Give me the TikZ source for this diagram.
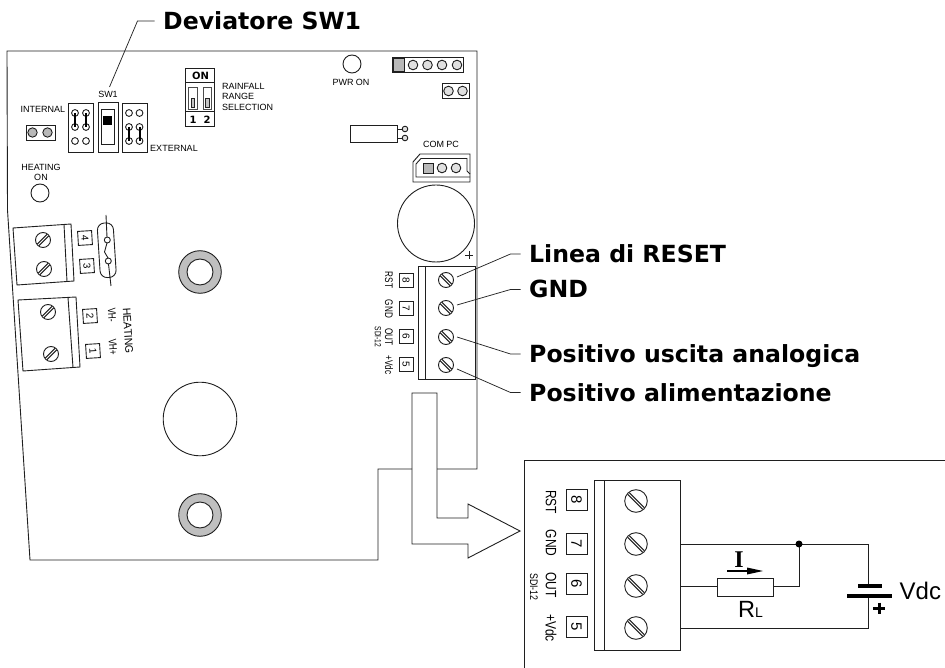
\documentclass[tikz,border=0pt]{standalone}
\usepackage{fontspec}
\usepackage{graphicx}
\setmainfont{Liberation Sans}
\newfontfamily\boldlabel[Scale=1]{DejaVu Sans}
\newfontfamily\serifbold{Liberation Serif}
\newcommand{\px}[1]{\fontsize{#1}{#1}\selectfont}
\newcommand{\nar}[1]{\scalebox{.74}[1]{#1}}
\newcommand{\screwmark}[5]{% name,x,y,r,angle
  \coordinate (#1) at (#2,#3);
  \draw[line] (#1) circle (#4pt);
  \draw[line,shift={(#1)},rotate=#5] (-#4pt+.6pt,1.15pt)--(#4pt-.6pt,1.15pt) (-#4pt+.6pt,-1.15pt)--(#4pt-.6pt,-1.15pt);
}
\newcommand{\grommet}[3]{% name,x,y
  \coordinate (#1) at (#2,#3);
  \draw[line,fill=holegray] (#1) circle (21.3pt);
  \draw[line,fill=white] (#1) circle (13pt);
}
\colorlet{holegray}{black!25}
\colorlet{pingray}{black!28}
\tikzset{
  x=1pt,y=-1pt,
  line/.style={draw=black!88,line width=.9pt},
  thin line/.style={draw=black!85,line width=.75pt},
  pin/.style={line,fill=pingray},
  callout/.style={anchor=west,inner ysep=0pt,inner xsep=8.5pt,text height=17pt,text depth=0pt,font=\boldlabel\bfseries\px{23.6}},
  cad/.style={inner sep=0pt,font=\px{9}},
  cadrot/.style={inner sep=0pt,font=\px{11}},
  cadsmall/.style={inner sep=0pt,font=\px{9}},
  cadbig/.style={inner sep=0pt,font=\px{15}},
  tag/.style={line,minimum size=14pt,inner sep=0pt,font=\px{10}},
  tagbig/.style={line,minimum size=21pt,inner sep=0pt,font=\px{15}},
}
\begin{document}
\begin{tikzpicture}
\useasboundingbox (0,0) rectangle (945,668);
% ---- board outline
\draw[line] (412,469) -- (378,469) -- (378,560) -- (30,560) -- (7.5,210) -- (7,51) -- (477,51) -- (477,469) -- (437,469);
% ---- callouts
\node[callout] (tDev) at (154.5,21) {Deviatore SW1};
\node[callout] (tLin) at (520.5,254) {Linea di RESET};
\node[callout] (tGnd) at (520.5,289.5) {GND};
\node[callout] (tOut) at (520.5,354) {Positivo uscita analogica};
\node[callout] (tAli) at (520.5,392.5) {Positivo alimentazione};
\coordinate (cSw) at (109.5,87);
\coordinate (c8) at (457,277);
\coordinate (c7) at (457,305);
\coordinate (c6) at (457,337);
\coordinate (c5) at (457,369);
\draw[thin line] (tDev.west) -- ++(-17,0) -- (cSw);
\draw[thin line] (tLin.west) -- ++(-10,0) -- (c8);
\draw[thin line] (tGnd.west) -- ++(-10,0) -- (c7);
\draw[thin line] (tOut.west) -- ++(-10,0) -- (c6);
\draw[thin line] (tAli.west) -- ++(-10,0) -- (c5);
% ---- top left jumpers
\node[cad] (lInt) at (43,109) {INTERNAL};
\node[cad] (lSw) at (108,94) {SW1};
\node[cad] (lExt) at (174,148) {EXTERNAL};
\node[cad] (lHea) at (41,167) {HEATING};
\node[cad] (lOn) at (41,177) {ON};
\draw[line] (40,193) circle (9pt);
\draw[line] (26,125) rectangle (55,140);
\draw[pin] (32.5,132.5) circle (4.7pt) (47.5,132.5) circle (4.7pt);
\draw[line] (68,103) rectangle (93,152);
\draw[line] (98,102) rectangle (118,152);
\draw[line] (122,103) rectangle (147,152);
\draw[line] (101,109) rectangle (114,144);
\fill[black] (103,116) rectangle (112,125);
\foreach \a in {75,86}{
  \draw[line,fill=white] (\a,113) circle (3.4pt) (\a,127) circle (3.4pt) (\a,141) circle (3.4pt);
  \draw[line width=2pt,black] (\a,113) -- (\a,127);
}
\foreach \a in {129,139.5}{
  \draw[line,fill=white] (\a,113) circle (3.4pt) (\a,127) circle (3.4pt) (\a,141) circle (3.4pt);
  \draw[line width=2pt,black] (\a,127) -- (\a,141);
}
% ---- DIP switch
\draw[line] (185,68) rectangle (214,126);
\draw[line] (185,82) -- (214,82) (185,111) -- (214,111);
\draw[thin line,draw=black!70] (188.5,87) rectangle (197,109) (203,87) rectangle (211.5,109);
\draw[thin line,fill=black!22] (191,98) rectangle (194.5,107);
\draw[thin line,fill=black!22] (205.5,98) rectangle (209,107);
\node[inner sep=0pt,font=\boldlabel\bfseries\px{10}] (lDon) at (200.5,76) {ON};
\node[inner sep=0pt,font=\boldlabel\bfseries\px{10}] (lD1) at (193,120) {1};
\node[inner sep=0pt,font=\boldlabel\bfseries\px{10}] (lD2) at (207,120) {2};
\node[cad,anchor=west] (lRa) at (222,86) {RAINFALL};
\node[cad,anchor=west] (lRb) at (222,96.5) {RANGE};
\node[cad,anchor=west] (lRc) at (222,107) {SELECTION};
% ---- top right
\draw[line] (352,64) circle (9pt);
\node[cad] (lPwr) at (351,82) {PWR ON};
\draw[line] (392,57) rectangle (463,72);
\draw[pin] (393.5,58.5) rectangle (404,71);
\foreach \a in {413,427.5,442,457}{\draw[pin,fill=black!12] (\a,65) circle (4.8pt);}
\draw[line] (442,83) rectangle (469,98);
\draw[pin,fill=black!12] (448.5,91) circle (4.8pt) (462.5,91) circle (4.8pt);
\draw[line] (350,125) rectangle (397,142);
\draw[line] (397,129) -- (402,129) (397,138) -- (402,138);
\draw[line,fill=black!12] (405,129) circle (2.8pt) (405,138) circle (2.8pt);
\node[cad] (lCom) at (441,144) {COM PC};
\draw[line] (413,162) -- (420,154) -- (470,154) -- (470,182) -- (413,182) -- cycle;
\draw[line] (470,177) -- (416,177) -- (416,164) -- (421,158.5) -- (467,158.5) -- (467,171) -- (470,174);
\draw[pin] (423,163) rectangle (433,173);
\draw[pin,fill=black!12] (442,168) circle (4.8pt) (456,168) circle (4.8pt);
\draw[line] (436,223.5) circle (38.5pt);
\draw[line] (465,255) -- (473,255) (469,251) -- (469,259);
% ---- upper terminal block
\draw[line] (418,266) rectangle (475,379);
\draw[line] (425,266) -- (425,379);
\screwmark{s8}{446}{280}{7.5}{-45}
\screwmark{s7}{446}{308}{7.5}{-45}
\screwmark{s6}{446}{337}{7.5}{-45}
\screwmark{s5}{446}{365}{7.5}{-45}
\node[tag,rotate=-90] (b8) at (406,280) {8};
\node[tag,rotate=-90] (b7) at (406,308) {7};
\node[tag,rotate=-90] (b6) at (406,336) {6};
\node[tag,rotate=-90] (b5) at (406,364) {5};
\node[cadrot,rotate=-90] (u8) at (389,280) {\nar{RST}};
\node[cadrot,rotate=-90] (u7) at (389,309) {\nar{GND}};
\node[cadrot,rotate=-90] (u6) at (389,337) {\nar{OUT}};
\node[cadrot,rotate=-90] (u5) at (389,365) {\nar{+Vdc}};
\node[cadsmall,rotate=-90] (uS) at (378,337) {\nar{SDI-12}};
% ---- left terminal blocks
\draw[line] (13,228) -- (71,224) -- (74,281) -- (17,285) -- cycle;
\draw[line] (64,224.5) -- (67,281.5);
\screwmark{s4}{43}{240}{7.5}{45}
\screwmark{s3}{44}{269}{7.5}{45}
\node[tag,rotate=-86.5] (b4) at (85,238) {4};
\node[tag,rotate=-86.5] (b3) at (87,266) {3};
\draw[line] (18,300) -- (76,297) -- (80,367) -- (23,371) -- cycle;
\draw[line] (68,297.5) -- (73,367.5);
\screwmark{s2}{48}{312}{7.5}{45}
\screwmark{s1}{51}{354}{7.5}{45}
\node[tag,rotate=-86.5] (b2) at (90,316) {2};
\node[tag,rotate=-86.5] (b1) at (93,351) {1};
\node[cadrot,rotate=-86.5] (lVm) at (112,315) {\nar{VH-}};
\node[cadrot,rotate=-86.5] (lVp) at (113,347) {\nar{VH+}};
\node[cadrot,rotate=-86.5] (lH) at (128,331) {\scalebox{.95}[1]{HEATING}};
% thermal switch
\draw[line,rounded corners=7pt] (97,223.5) -- (113,222.5) -- (116.5,277) -- (100.5,278) -- cycle;
\draw[line] (106,215) -- (107,237) (108.5,264) -- (111,286);
\draw[line] (107,243) -- (104.5,252) -- (108,258);
\draw[line,fill=white] (107.3,240) circle (3pt) (108.3,261) circle (3pt);
% ---- holes
\grommet{h1}{200}{272}
\grommet{h2}{200}{515}
\draw[line] (200,419) circle (36.8pt);
% ---- big arrow
\draw[line] (412,393) -- (437,393) -- (437,518) -- (468,518) -- (468,504) -- (520,531) -- (468,558) -- (468,544) -- (412,544) -- cycle;
% ---- detail panel
\draw[line] (945,460) -- (524,460) -- (524,668);
\draw[line] (594,480) rectangle (680,650);
\draw[line] (604,480) -- (604,650);
\screwmark{d8}{636}{501}{11.3}{-45}
\screwmark{d7}{636}{544}{11.3}{-45}
\screwmark{d6}{636}{586}{11.3}{-45}
\screwmark{d5}{636}{628}{11.3}{-45}
\node[tagbig,rotate=-90] (n8) at (576.5,500) {8};
\node[tagbig,rotate=-90] (n7) at (576.5,543.5) {7};
\node[tagbig,rotate=-90] (n6) at (576.5,584) {6};
\node[tagbig,rotate=-90] (n5) at (576.5,626.5) {5};
\node[cadbig,rotate=-90] (m8) at (551,502) {\scalebox{.8}[1]{RST}};
\node[cadbig,rotate=-90] (m7) at (551,543) {\scalebox{.8}[1]{GND}};
\node[cadbig,rotate=-90] (m6) at (551,585) {\scalebox{.8}[1]{OUT}};
\node[cadbig,rotate=-90] (m5) at (551,628) {\scalebox{.8}[1]{+Vdc}};
\node[inner sep=0pt,font=\px{11},rotate=-90] (mS) at (534,587) {\scalebox{.8}[1]{SDI-12}};
% circuit
\node[line,fill=white,minimum width=56pt,minimum height=18pt,inner sep=0pt] (rl) at (745,587) {};
\coordinate (j1) at (799,544);
\coordinate (tr) at (868,544);
\coordinate (br) at (868,628);
\coordinate (w7) at (680,544);
\coordinate (w6) at (680,586);
\coordinate (w5) at (680,628);
\coordinate (bt) at (868,586);
\coordinate (bb) at (868,596);
\draw[line] (w7) -- (tr) -- (bt);
\draw[line] (w6) -- (w6 -| rl.west);
\draw[line] (rl.east |- w6) -| (j1);
\draw[line] (w5) -- (br) -- (bb);
\fill[black] (j1) circle (3.5pt);
\draw[black,line width=4.5pt] (858,586) -- (882,586);
\draw[black,line width=3.6pt] (847,596) -- (892,596);
\draw[black,line width=3pt] (873,608) -- (885,608) (879,602.5) -- (879,613.5);
\node[inner sep=0pt,anchor=base west,font=\px{24}] (tV) at (899.5,599) {Vdc};
\node[inner sep=0pt,anchor=base west,font=\px{23.5}] (tR) at (738,617) {R{\px{14}L}};
\node[inner sep=0pt,anchor=base,font=\serifbold\bfseries\px{24}] (tI) at (739,567) {I};
\draw[black,line width=1.6pt] (727,571) -- (749,571);
\fill[black] (747,567.5) -- (763,571) -- (747,574.5) -- cycle;
\end{tikzpicture}
\end{document}
